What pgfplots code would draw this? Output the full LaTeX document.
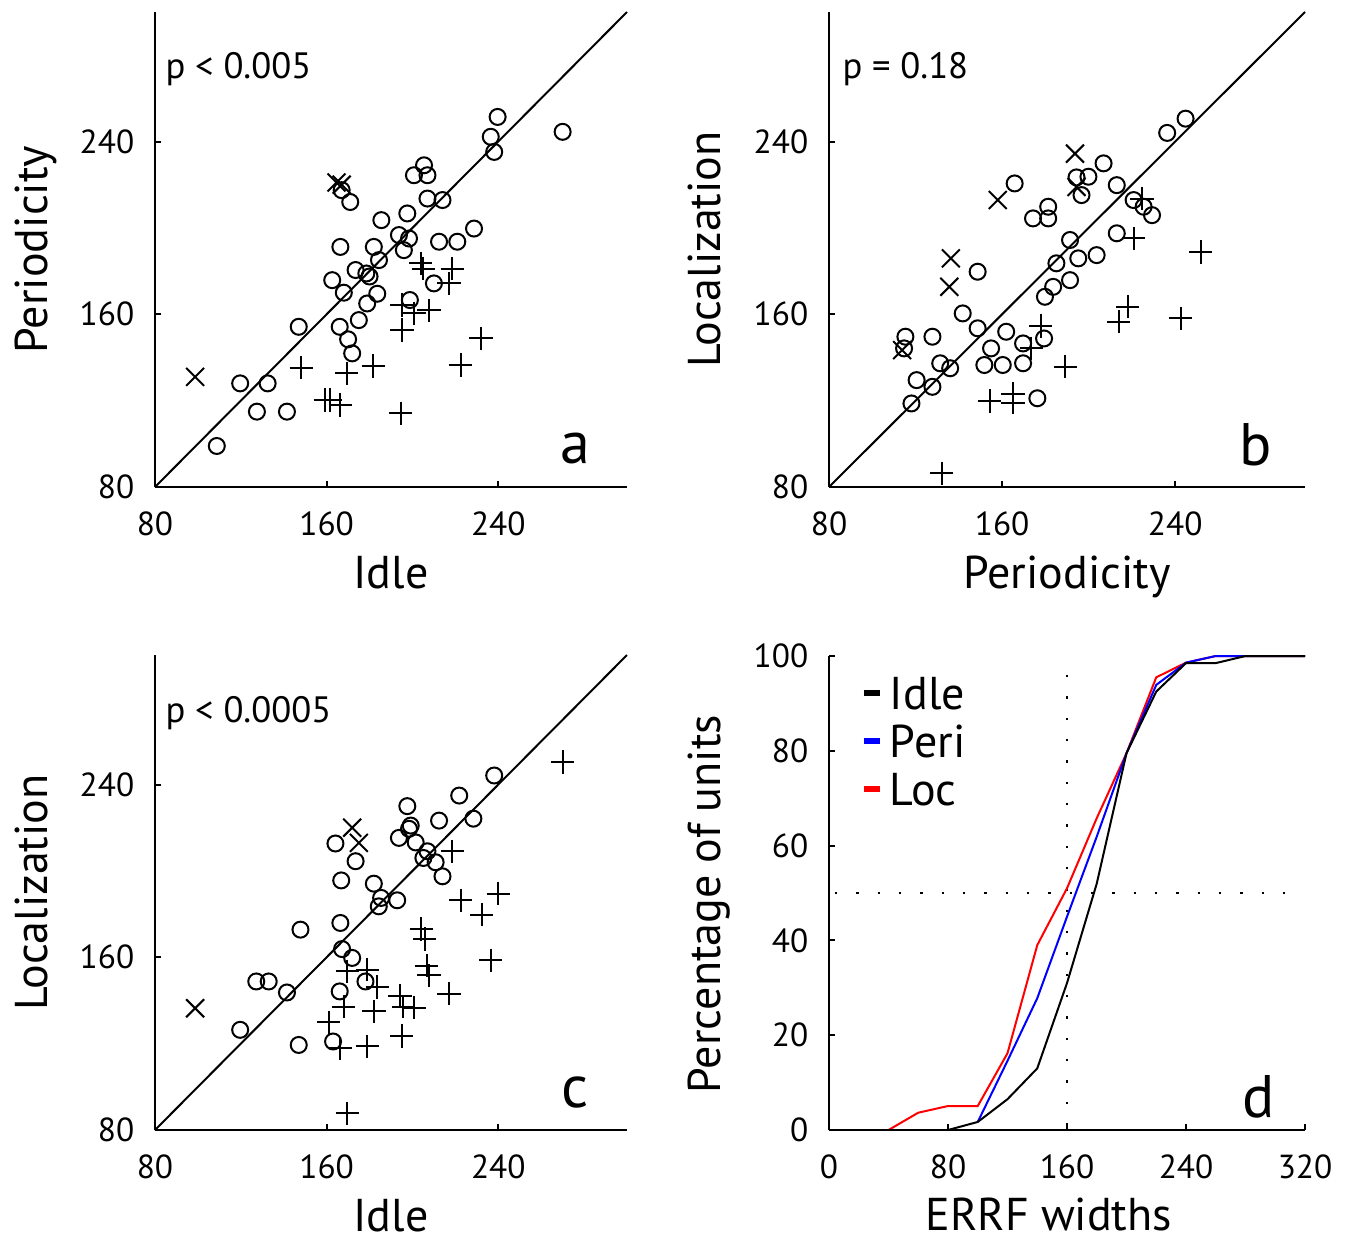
\documentclass[border=0pt]{standalone}
\usepackage{fontspec}
\setmainfont{PT Sans}
\usepackage{pgfplots}
\pgfplotsset{compat=1.18}

\pgfplotsset{
  base/.style={
    scale only axis, height=142.5pt,
    axis x line*=bottom, axis y line*=left,
    axis line style={line width=0.6pt,-},
    tick align=inside, major tick length=1.8pt,
    tick style={line width=0.6pt,black},
    /pgf/number format/assume math mode=true,
    tick label style={font=\fontsize{10}{12}\selectfont},
    xticklabel style={yshift=-4pt},
    yticklabel style={xshift=-2.7pt},
    label style={font=\fontsize{13.8}{16}\selectfont, inner sep=0pt},
    xlabel style={at={(rel axis cs:0.5,-0.213)},anchor=base},
    ylabel style={at={(rel axis cs:-0.228,0.5)},anchor=base},
    clip=false,
  },
  sc/.style={base, width=141.6pt,
    xmin=80, xmax=300, ymin=80, ymax=300,
    xtick={80,160,240}, ytick={80,160,240}},
  circ/.style={only marks, mark=o, mark size=2.4pt, black, mark options={line width=0.6pt}},
  plus/.style={only marks, mark=+, mark size=3.5pt, black, mark options={line width=0.6pt}},
  cross/.style={only marks, mark=x, mark size=3.8pt, black, mark options={line width=0.6pt}},
  diag/.style={black, line width=0.6pt},
}
\tikzset{
  pval/.style={anchor=base west, inner sep=0pt, font=\fontsize{11}{13}\selectfont},
  letter/.style={font=\fontsize{18}{20}\selectfont},
}

\begin{document}
\begin{tikzpicture}

% a: Idle vs Periodicity
\begin{axis}[sc, at={(46.5pt,-146.1pt)}, anchor=south west,
  xlabel={Idle}, ylabel={Periodicity}]
\addplot[diag] coordinates {(80,80) (300,300)};
\addplot[circ] coordinates {
(167,217.5) (171,212) (185.5,203.6) (166.4,191.2) (182,191.2) (184.4,185.1)
(173.5,180.5) (178.5,178.9) (180,177.5) (162.6,175.8) (183.6,169.5) (168,170)
(178.9,165) (175,157.3) (147,154.2) (166.1,154.2) (170,148.4) (171.9,141.9)
(119.7,128) (132.5,128) (127.5,114.9) (141.5,114.9) (108.8,99)
(239.7,251.4) (236.5,242.2) (238.1,235.2) (270,244.5) (205.4,229) (200.7,224.4)
(207,224.4) (207,213.6) (214,212.9) (197.6,206.7) (193.7,196.7) (198.4,195.1)
(196,189.7) (212.4,193.6) (220.9,193.6) (228.7,199.7) (210,174.3) (198.8,166.6)};
\addplot[plus] coordinates {
(148.2,135.2) (169.3,132.6) (181.7,136) (159.4,120.3) (161.5,120.3) (166.4,118)
(203.8,183.6) (205,181.2) (218.6,181.2) (217,174.3) (195.2,164.3) (200.7,160.4)
(207.7,161.9) (195.2,152.7) (231.9,148.8) (222.5,136.5) (194.5,114.1)};
\addplot[cross] coordinates {(164.6,221) (167,220) (98.7,131)};
\node[pval] at (rel axis cs:0.021,0.859) {p < 0.005};
\node[letter] at (rel axis cs:0.89,0.082) {a};
\end{axis}

% b: Periodicity vs Localization
\begin{axis}[sc, width=142.8pt, at={(248.7pt,-146.1pt)}, anchor=south west,
  xlabel={Periodicity}, ylabel={Localization}]
\addplot[diag] coordinates {(80,80) (300,300)};
\addplot[circ] coordinates {
(165.8,220.6) (181.3,209.8) (174.3,204.4) (181.3,204.4) (191.4,194.4) (195.2,185.9)
(185.1,183.6) (148.7,179.7) (191.4,175.8) (183.6,172.7) (179.8,168.1) (141.8,160.4)
(148.7,153.5) (161.9,151.9) (115.3,149.6) (127.8,149.6) (114.7,144.2) (169.7,146.5)
(179.4,148.8) (154.9,144.2) (151.8,136.5) (160.3,136.5) (169.7,137.3) (131.4,137.3)
(136,135) (120.5,129.5) (127.8,126.4) (118.1,118.7) (176.3,121.1)
(244.8,250.6) (236.3,244) (206.9,229.9) (199.9,223.7) (194.4,223.4) (196.7,215.2)
(213,219.8) (220.8,212.9) (225.4,209.8) (229.3,205.9) (213,197.5) (203.7,187.4)};
\addplot[plus] coordinates {
(177.9,154.5) (173.5,144.2) (189.3,135.7) (154.2,119.9) (165.1,123) (165.1,119)
(132.1,86.3) (224.7,213.6) (220.8,195.1) (251.8,188.9) (218.1,163.5) (213.8,156.5)
(242.5,158.1)};
\addplot[cross] coordinates {(193.7,234.4) (158,212.9) (136.3,185.9) (135.6,172.7)
(113.8,143.4) (194.4,219)};
\node[pval] at (rel axis cs:0.027,0.859) {p = 0.18};
\node[letter] at (rel axis cs:0.897,0.088) {b};
\end{axis}

% c: Idle vs Localization
\begin{axis}[sc, at={(46.5pt,-339pt)}, anchor=south west,
  xlabel={Idle}, ylabel={Localization}]
\addplot[diag] coordinates {(80,80) (300,300)};
\addplot[circ] coordinates {
(164.1,212.7) (173.5,204.5) (166.8,195.6) (182,194.1) (185.4,187.5) (184.3,183.6)
(166.4,175.9) (147.8,172.8) (167.2,163.8) (171.9,159.7) (178.1,148.8) (127.2,148.8)
(133,148.8) (141.5,143.7) (166.1,144.2) (119.7,126.4) (147,119.4) (163,121)
(238.1,244.2) (221.8,234.9) (197.6,230) (212.4,223.3) (228.4,224.2) (199.2,221)
(198.4,219.5) (193.7,215.3) (201.5,213.2) (207,209.1) (205.1,206) (210.8,204)
(214,197.5) (192.9,186.4)};
\addplot[plus] coordinates {
(169.6,153.5) (178.9,154.2) (183.6,146.2) (168,137.2) (182,134.9) (161,129.8)
(166.4,117.9) (178.9,118.7) (169.6,87.7) (270,250.4) (218.6,209.1) (222.5,186.4)
(240,189.4) (232.2,179.7) (204.1,173.1) (205.7,168.5) (206.6,156.1) (207.7,151.6)
(236.5,158.6) (217,143.1) (194.2,142.2) (195.7,137.2) (200.7,136.7) (195,123.6)};
\addplot[cross] coordinates {(171.9,220) (175,213) (98.7,136.4)};
\node[pval] at (rel axis cs:0.021,0.857) {p < 0.0005};
\node[letter] at (rel axis cs:0.89,0.08) {c};
\end{axis}

% d: cumulative distributions of ERRF widths
\begin{axis}[base, width=142.8pt, height=142.2pt, at={(248.7pt,-339pt)}, anchor=south west,
  xmin=0, xmax=320, ymin=0, ymax=100,
  xtick={0,80,...,320}, ytick={0,20,...,100},
  xlabel={ERRF widths}, ylabel={Percentage of units},
  xlabel style={at={(rel axis cs:0.462,-0.213)}},
  ylabel style={at={(rel axis cs:-0.228,0.477)}},
  axis on top,
  reverse legend,
  legend cell align=left,
  legend image code/.code={\draw[#1,line width=1.8pt] (0pt,0pt) -- (5pt,0pt);},
  legend style={at={(rel axis cs:0.065,0.958)}, anchor=north west, draw=none, fill=none,
    inner sep=0pt, column sep=2pt, row sep=4.6pt,
    font=\fontsize{13.8}{16}\selectfont,
    nodes={inner sep=0pt, text height=9.8pt, text depth=0pt}},
  ]
\addplot[black, line width=0.7pt, dash pattern=on 0.7pt off 5.7pt, forget plot]
  coordinates {(160,1) (160,98)};
\addplot[black, line width=0.7pt, dash pattern=on 0.7pt off 5.7pt, forget plot]
  coordinates {(4,50) (318,50)};
\addplot[red, line width=0.6pt] coordinates {
(40,0) (60,3.65) (80,5.06) (100,5.06) (120,16.2) (140,39) (160,51) (180,65.8)
(200,79.5) (220,95.5) (240,98.6) (260,100) (320,100)};
\addplot[blue, line width=0.6pt] coordinates {
(100,1.7) (120,14.6) (140,27.8) (160,45) (180,61.9) (200,79.5) (220,93.9)
(240,98.6) (260,100) (320,100)};
\addplot[black, line width=0.6pt] coordinates {
(80,0) (100,1.7) (120,6.5) (140,13) (160,31) (180,52) (200,79.5) (220,92.5)
(240,98.5) (260,98.5) (280,100) (320,100)};
\legend{Loc,Peri,Idle}
\node[letter] at (rel axis cs:0.903,0.07) {d};
\end{axis}

\pgfresetboundingbox
\path[use as bounding box] (0,0) rectangle (404.1pt,-371.4pt);
\end{tikzpicture}
\end{document}
